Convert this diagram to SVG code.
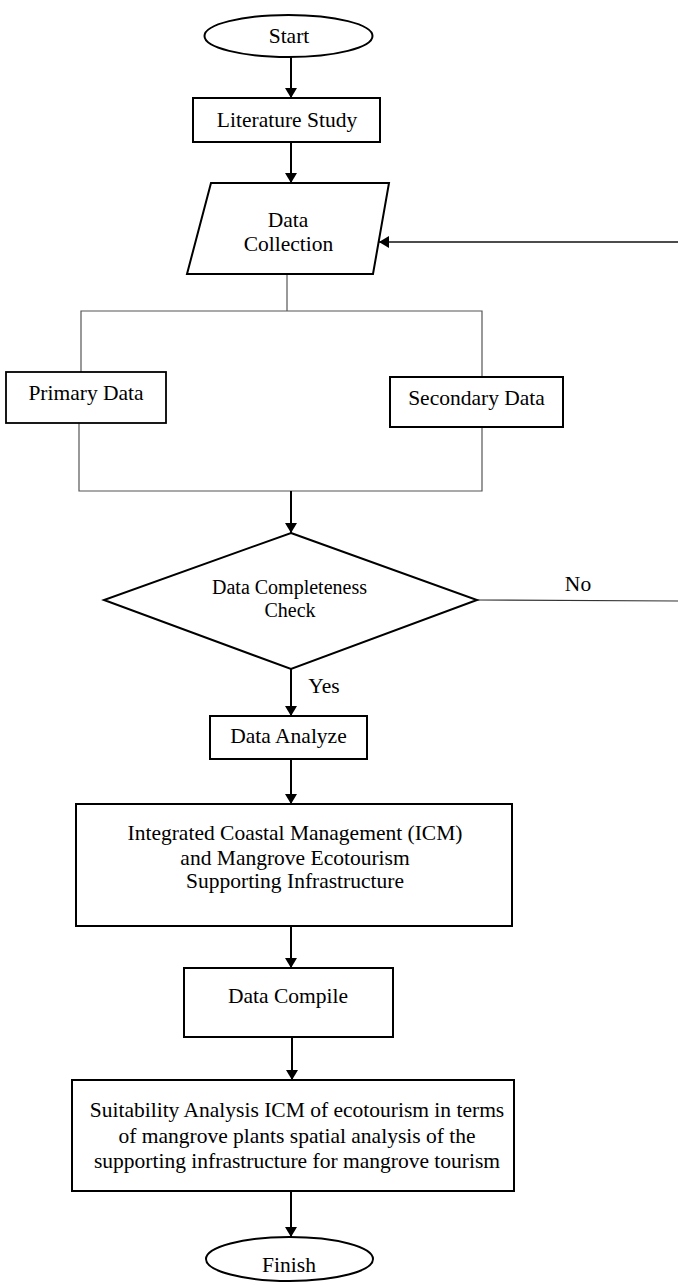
<svg xmlns="http://www.w3.org/2000/svg" width="678" height="1285" viewBox="0 0 678 1285">
<style>
  .shape{fill:#fff;stroke:#000;stroke-width:2}
  .thin{fill:none;stroke:#555;stroke-width:1.2}
  .arrow{fill:none;stroke:#000;stroke-width:2;marker-end:url(#ah)}
  .fb{fill:none;stroke:#111;stroke-width:1.4;marker-end:url(#ah)}
  text{font-family:"Liberation Serif","Times New Roman",serif;font-size:21.5px;fill:#000;text-anchor:middle}
  .sm{font-size:20px}
</style>
<defs>
  <marker id="ah" viewBox="0 0 10 12" refX="10" refY="6" markerWidth="10" markerHeight="12" markerUnits="userSpaceOnUse" orient="auto">
    <path d="M0,0 L10,6 L0,12 Z" fill="#000"/>
  </marker>
</defs>
<rect width="678" height="1285" fill="#fff"/>
<g id="connectors">
  <line class="arrow" x1="291" y1="57" x2="291" y2="98"/>
  <line class="arrow" x1="291" y1="142" x2="291" y2="183"/>
  <line class="fb" x1="678" y1="242" x2="379" y2="242"/>
  <polyline class="thin" points="287,274 287,311"/>
  <polyline class="thin" points="81,372 81,311 482,311 482,377"/>
  <polyline class="thin" points="79,423 79,491 482,491 482,427"/>
  <line class="arrow" x1="291" y1="491" x2="291" y2="533"/>
  <line class="thin" x1="477" y1="600" x2="678" y2="601" style="stroke:#333"/>
  <text x="578" y="591">No</text>
  <line class="arrow" x1="291" y1="669" x2="291" y2="716"/>
  <text x="324" y="693" style="text-anchor:middle">Yes</text>
  <line class="arrow" x1="291" y1="759" x2="291" y2="804"/>
  <line class="arrow" x1="291" y1="926" x2="291" y2="968"/>
  <line class="arrow" x1="292" y1="1037" x2="292" y2="1080"/>
  <line class="arrow" x1="291" y1="1191" x2="291" y2="1237"/>
</g>
<g id="start">
  <ellipse class="shape" cx="288.5" cy="36" rx="84" ry="21"/>
  <text x="289" y="43">Start</text>
</g>
<g id="literature">
  <rect class="shape" x="193" y="98" width="187" height="44"/>
  <text x="287" y="127">Literature Study</text>
</g>
<g id="data-collection">
  <polygon class="shape" points="211,183 389,183 373,274 187,274"/>
  <text x="288" y="227">Data</text>
  <text x="288.5" y="251">Collection</text>
</g>
<g id="primary">
  <rect class="shape" x="6" y="372" width="160" height="51" style="stroke-width:1.8"/>
  <text x="86" y="400">Primary Data</text>
</g>
<g id="secondary">
  <rect class="shape" x="390" y="377" width="173" height="50"/>
  <text x="476.5" y="405">Secondary Data</text>
</g>
<g id="check">
  <polygon class="shape" points="291,533 477,600 291,669 104,600"/>
  <text class="sm" x="289.5" y="594">Data Completeness</text>
  <text class="sm" x="290" y="617">Check</text>
</g>
<g id="analyze">
  <rect class="shape" x="210" y="716" width="157" height="43"/>
  <text x="288.5" y="743">Data Analyze</text>
</g>
<g id="icm">
  <rect class="shape" x="76" y="804" width="436" height="122"/>
  <text x="295" y="840">Integrated Coastal Management (ICM)</text>
  <text x="295" y="865">and Mangrove Ecotourism</text>
  <text x="295" y="888">Supporting Infrastructure</text>
</g>
<g id="compile">
  <rect class="shape" x="184" y="968" width="209" height="69"/>
  <text x="288" y="1003">Data Compile</text>
</g>
<g id="suitability">
  <rect class="shape" x="72" y="1080" width="442" height="111"/>
  <text x="297" y="1117">Suitability Analysis ICM of ecotourism in terms</text>
  <text x="297" y="1143">of mangrove plants spatial analysis of the</text>
  <text x="297" y="1168">supporting infrastructure for mangrove tourism</text>
</g>
<g id="finish">
  <ellipse class="shape" cx="289.5" cy="1259" rx="83.5" ry="22"/>
  <text x="289" y="1272">Finish</text>
</g>
</svg>
